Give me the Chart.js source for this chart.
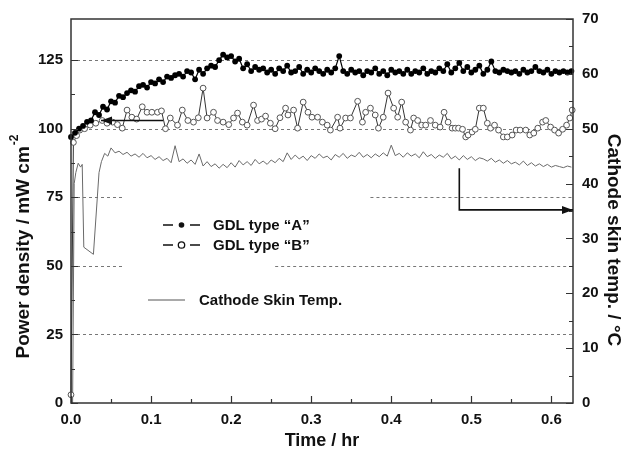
<!DOCTYPE html>
<html>
<head>
<meta charset="utf-8">
<script src="https://cdn.jsdelivr.net/npm/chart.js@4.4.1/dist/chart.umd.min.js"></script>
<style>
  html, body { margin: 0; padding: 0; background: #fff; }
</style>
</head>
<body>
<canvas id="chart" width="624" height="451"></canvas>
<script>
// GDL type "A" (filled circles), sampled every 0.005 hr from t = 0
const stepA = 0.005;
const powerA = [
  97, 98.5, 100, 101, 102.5, 103, 106, 105, 108, 107,
  110, 109.5, 112, 111.5, 113, 114, 113.5, 115.5, 116, 115,
  117, 116.5, 118, 117, 119, 118.5, 119.5, 120, 119, 121,
  120.5, 118, 121.5, 120, 122, 123, 122.5, 125, 127, 126,
  126.5, 124.5, 125.5, 122, 123.5, 121, 122.5, 121.5, 122, 120.5,
  121.5, 120, 122, 121, 123, 120.5, 121, 122.5, 120, 121.5,
  120.5, 122, 121, 120, 121.5, 120.5, 122, 126.5, 121, 120,
  121.5, 120.5, 121, 119.5, 121, 120.5, 122, 120, 121, 119.5,
  121.5, 120.5, 121, 120, 121.5, 120, 121, 120.5, 122, 120,
  121, 120.5, 122, 121, 123.5, 120.5, 122, 124, 121, 122.5,
  120.5, 121.5, 123, 120, 121.5, 124.5, 121, 120.5, 121.5, 121,
  120.5, 121, 120, 121.5, 120.5, 121, 122.5, 121, 120.5, 121.5,
  120, 121, 120.5, 121, 120.5, 121
];

// GDL type "B" (open circles)
const timeB = [
  0.000, 0.003, 0.007, 0.011, 0.017, 0.024, 0.031, 0.039, 0.045, 0.052,
  0.058, 0.064, 0.070, 0.076, 0.082, 0.089, 0.095, 0.101, 0.108, 0.113,
  0.118, 0.124, 0.133, 0.139, 0.146, 0.153, 0.159, 0.165, 0.170, 0.178,
  0.183, 0.190, 0.197, 0.203, 0.208, 0.214, 0.220, 0.228, 0.233, 0.238,
  0.243, 0.249, 0.255, 0.261, 0.268, 0.271, 0.278, 0.283, 0.290, 0.296,
  0.301, 0.308, 0.314, 0.320, 0.324, 0.333, 0.336, 0.343, 0.349, 0.358,
  0.364, 0.368, 0.374, 0.380, 0.384, 0.390, 0.396, 0.403, 0.408, 0.413,
  0.418, 0.424, 0.428, 0.433, 0.438, 0.443, 0.449, 0.455, 0.461, 0.466,
  0.471, 0.476, 0.480, 0.484, 0.489, 0.493, 0.496, 0.501, 0.505, 0.510,
  0.515, 0.520, 0.524, 0.529, 0.534, 0.540, 0.545, 0.551, 0.556, 0.561,
  0.568, 0.573, 0.578, 0.583, 0.589, 0.593, 0.599, 0.604, 0.609, 0.614,
  0.619, 0.623, 0.626
];
const powerB = [
  3, 95, 97.5, 99.5, 100, 101.3, 102, 103, 102, 102.4,
  101.5, 100.2, 106.8, 104.2, 103.5, 108, 106, 106, 106, 106.5,
  100, 103.9, 101.3, 106.8, 103, 102.4, 104, 114.8, 103.9, 106,
  103, 102.4, 101.5, 103.9, 105.7, 102.4, 101.3, 108.6, 103, 103.5,
  104.6, 102, 100, 104, 107.5, 105, 106.8, 100.2, 109.7, 106,
  104.2, 104.2, 102.4, 101.3, 99.5, 104.2, 100.2, 103.9, 103.9, 110,
  102.4, 106, 107.5, 105, 100.2, 104.2, 113, 107.5, 104.2, 109.7,
  102.4, 99.5, 103.9, 103, 101.3, 101.3, 103, 101.3, 100.6, 106,
  102.4, 100.2, 100.2, 100.2, 99.8, 97, 97.7, 98.8, 99.8, 107.5,
  107.5, 102, 100.2, 101.3, 99.5, 97, 97, 97.7, 99.5, 99.5,
  99.5, 97.7, 98.4, 100.2, 102.4, 103, 100.6, 99.5, 98.4, 99.8,
  101.3, 103.9, 106.8
];

// Cathode skin temperature (right axis, °C): start-up part, then every 0.005 hr from 0.05
const tempStartTimes = [0.002, 0.004, 0.006, 0.009, 0.012, 0.014, 0.016, 0.028, 0.035, 0.038, 0.042, 0.046];
const tempStart = [0, 40, 42, 43.7, 43, 43.5, 28.4, 27.1, 42, 44, 45.5, 45];
const tempFrom = 0.05;
const stepT = 0.005;
const temp = [
  46.5, 45.6, 45.9, 45.3, 45.7, 45.0, 45.4, 44.8, 45.5, 44.7,
  45.1, 44.4, 44.9, 44.2, 44.6, 43.8, 46.9, 44.0, 44.5, 43.7,
  44.3, 43.5, 45.4, 43.2, 44.0, 43.1, 43.6, 42.8, 43.5, 42.9,
  43.8, 43.0, 44.2, 43.4, 44.0, 43.3, 44.4, 43.6, 44.1, 43.5,
  44.3, 43.8, 44.6, 44.0, 45.6, 44.4, 45.2, 44.5, 45.0, 44.2,
  45.1, 44.6, 45.4, 44.7, 45.0, 44.3, 45.3, 44.8, 45.5, 44.6,
  45.2, 44.9, 45.7, 44.8, 45.3, 44.7, 45.4, 44.9, 45.6, 45.0,
  47.0, 45.1, 45.5, 44.8, 45.6, 45.0, 45.4, 44.7, 45.8, 44.9,
  45.3, 44.6, 45.2, 44.8, 45.5, 44.5, 45.0, 44.3, 45.1, 44.4,
  44.9, 44.2, 44.7, 44.5, 44.1, 44.6, 43.9, 44.3, 43.7, 44.2,
  43.6, 43.9, 43.4, 44.1, 43.3, 43.8, 43.2, 43.6, 43.1, 43.5,
  43.0, 43.3, 43.1, 42.9, 43.2, 43.0
];

// dashed reference lines on the left axis: [value, from time, to time]
const gridRuns = [
  [125, 0, 0.627], [100, 0, 0.627],
  [75, 0, 0.065], [75, 0.374, 0.627],
  [50, 0, 0.065], [50, 0.255, 0.627],
  [25, 0, 0.627]
];

const pointsA = powerA.map((v, i) => ({ x: +(i * stepA).toFixed(3), y: v }));
const pointsB = powerB.map((v, i) => ({ x: timeB[i], y: v }));
const pointsT = tempStart.map((v, i) => ({ x: tempStartTimes[i], y: v }))
  .concat(temp.map((v, i) => ({ x: +(tempFrom + i * stepT).toFixed(3), y: v })));

const FONT = '"Liberation Sans", Arial, sans-serif';

function arrow(ctx, pts) {
  ctx.beginPath();
  pts.forEach(([px, py], i) => (i ? ctx.lineTo(px, py) : ctx.moveTo(px, py)));
  ctx.stroke();
  const [x1, y1] = pts[pts.length - 2];
  const [x2, y2] = pts[pts.length - 1];
  const a = Math.atan2(y2 - y1, x2 - x1);
  const c = Math.cos(a), s = Math.sin(a);
  ctx.beginPath();
  ctx.moveTo(x2, y2);
  ctx.lineTo(x2 - 11 * c + 4 * s, y2 - 11 * s - 4 * c);
  ctx.lineTo(x2 - 11 * c - 4 * s, y2 - 11 * s + 4 * c);
  ctx.closePath();
  ctx.fill();
}

const decor = {
  id: 'decor',
  beforeDatasetsDraw(chart) {
    const { ctx, scales: { x, y } } = chart;
    ctx.save();
    ctx.strokeStyle = '#777';
    ctx.lineWidth = 1;
    ctx.setLineDash([3, 3]);
    gridRuns.forEach(([v, from, to]) => {
      const py = Math.round(y.getPixelForValue(v)) + 0.5;
      ctx.beginPath();
      ctx.moveTo(x.getPixelForValue(from), py);
      ctx.lineTo(x.getPixelForValue(to), py);
      ctx.stroke();
    });
    ctx.restore();
  },
  afterDatasetsDraw(chart) {
    const { ctx, chartArea: a, scales: { x, y, y2 } } = chart;
    ctx.save();
    ctx.strokeStyle = '#333';
    ctx.fillStyle = '#111';

    // frame
    ctx.lineWidth = 1.5;
    ctx.strokeRect(a.left, a.top, a.right - a.left, a.bottom - a.top);

    // inward ticks, major + minor
    ctx.lineWidth = 1.2;
    ctx.beginPath();
    x.ticks.forEach(t => {
      const px = Math.round(x.getPixelForValue(t.value)) + 0.5;
      ctx.moveTo(px, a.bottom); ctx.lineTo(px, a.bottom - 7);
      const m = Math.round(x.getPixelForValue(t.value + 0.05)) + 0.5;
      if (m < a.right - 2) { ctx.moveTo(m, a.bottom); ctx.lineTo(m, a.bottom - 4); }
    });
    y.ticks.forEach(t => {
      const py = Math.round(y.getPixelForValue(t.value)) + 0.5;
      ctx.moveTo(a.left, py); ctx.lineTo(a.left + 7, py);
      if (t.value + 12.5 < 125) {
        const m = Math.round(y.getPixelForValue(t.value + 12.5)) + 0.5;
        ctx.moveTo(a.left, m); ctx.lineTo(a.left + 4, m);
      }
    });
    y2.ticks.forEach(t => {
      const py = Math.round(y2.getPixelForValue(t.value)) + 0.5;
      ctx.moveTo(a.right, py); ctx.lineTo(a.right - 7, py);
      if (t.value + 5 < 70) {
        const m = Math.round(y2.getPixelForValue(t.value + 5)) + 0.5;
        ctx.moveTo(a.right, m); ctx.lineTo(a.right - 4, m);
      }
    });
    ctx.stroke();

    // arrows pointing at each series' axis
    ctx.strokeStyle = '#111';
    ctx.lineWidth = 1.6;
    arrow(ctx, [
      [x.getPixelForValue(0.115), y.getPixelForValue(103)],
      [x.getPixelForValue(0.0375), y.getPixelForValue(103)]
    ]);
    arrow(ctx, [
      [x.getPixelForValue(0.485), y2.getPixelForValue(42.8)],
      [x.getPixelForValue(0.485), y2.getPixelForValue(35.2)],
      [a.right, y2.getPixelForValue(35.2)]
    ]);

    // legend
    ctx.font = 'bold 15px ' + FONT;
    ctx.textBaseline = 'middle';
    ctx.textAlign = 'left';
    const lx = a.left;
    const rowA = 225, rowB = 245, rowC = 300;
    ctx.lineWidth = 1.3;
    ctx.beginPath();
    ctx.moveTo(lx + 92, rowA); ctx.lineTo(lx + 102, rowA);
    ctx.moveTo(lx + 119, rowA); ctx.lineTo(lx + 129, rowA);
    ctx.moveTo(lx + 92, rowB); ctx.lineTo(lx + 102, rowB);
    ctx.moveTo(lx + 119, rowB); ctx.lineTo(lx + 129, rowB);
    ctx.stroke();
    ctx.beginPath(); ctx.arc(lx + 110.5, rowA, 2.8, 0, Math.PI * 2); ctx.fill();
    ctx.beginPath(); ctx.arc(lx + 110.5, rowB, 3.2, 0, Math.PI * 2); ctx.stroke();
    ctx.fillText('GDL type \u201CA\u201D', lx + 142, rowA + 1);
    ctx.fillText('GDL type \u201CB\u201D', lx + 142, rowB + 1);
    ctx.strokeStyle = '#555';
    ctx.lineWidth = 1;
    ctx.beginPath(); ctx.moveTo(lx + 77, rowC); ctx.lineTo(lx + 114, rowC); ctx.stroke();
    ctx.fillText('Cathode Skin Temp.', lx + 128, rowC + 1);

    // axis titles
    ctx.font = 'bold 18px ' + FONT;
    ctx.textAlign = 'center';
    ctx.textBaseline = 'middle';
    ctx.fillText('Time / hr', (a.left + a.right) / 2, 441);

    const main = 'Power density / mW cm';
    ctx.font = 'bold 19px ' + FONT;
    const wMain = ctx.measureText(main).width;
    ctx.font = 'bold 12px ' + FONT;
    const wSup = ctx.measureText('-2').width;
    ctx.save();
    ctx.translate(24, 247);
    ctx.rotate(-Math.PI / 2);
    ctx.textAlign = 'left';
    const start = -(wMain + wSup) / 2;
    ctx.font = 'bold 19px ' + FONT;
    ctx.fillText(main, start, 0);
    ctx.font = 'bold 12px ' + FONT;
    ctx.fillText('-2', start + wMain + 1, -9);
    ctx.restore();

    ctx.save();
    ctx.translate(613, 240);
    ctx.rotate(Math.PI / 2);
    ctx.font = 'bold 19px ' + FONT;
    ctx.fillText('Cathode skin temp. / \u00B0C', 0, 0);
    ctx.restore();

    ctx.restore();
  }
};

const tickFont = { family: FONT, size: 15, weight: 'bold' };

new Chart(document.getElementById('chart'), {
  type: 'line',
  data: {
    datasets: [
      {
        label: 'GDL type "A"', data: pointsA, yAxisID: 'y', order: 1, clip: 6,
        borderColor: '#000', borderWidth: 1.2,
        pointRadius: 2.9, pointBackgroundColor: '#000', pointBorderColor: '#000', pointBorderWidth: 0
      },
      {
        label: 'GDL type "B"', data: pointsB, yAxisID: 'y', order: 2, clip: 6,
        borderColor: '#333', borderWidth: 1,
        pointRadius: 2.9, pointBackgroundColor: '#fff', pointBorderColor: '#555', pointBorderWidth: 1
      },
      {
        label: 'Cathode Skin Temp.', data: pointsT, yAxisID: 'y2', order: 3,
        borderColor: '#6a6a6a', borderWidth: 1, pointRadius: 0
      }
    ]
  },
  options: {
    responsive: false,
    animation: false,
    events: [],
    layout: { padding: { top: 19, left: 0, right: 0, bottom: 0 } },
    plugins: { legend: { display: false }, tooltip: { enabled: false } },
    scales: {
      x: {
        type: 'linear', min: 0, max: 0.627,
        grid: { display: false, drawTicks: false },
        border: { display: false },
        ticks: {
          stepSize: 0.1, includeBounds: false, autoSkip: false, maxRotation: 0,
          padding: 8, color: '#111', font: tickFont,
          callback: v => v.toFixed(1)
        },
        afterFit: s => { s.height = 48; }
      },
      y: {
        position: 'left', min: 0, max: 140,
        grid: { display: false, drawTicks: false },
        border: { display: false },
        ticks: { stepSize: 25, includeBounds: false, padding: 8, color: '#111', font: tickFont },
        afterFit: s => { s.width = 71; }
      },
      y2: {
        position: 'right', min: 0, max: 70,
        grid: { display: false, drawTicks: false },
        border: { display: false },
        ticks: { stepSize: 10, includeBounds: false, padding: 9, color: '#111', font: tickFont },
        afterFit: s => { s.width = 51; }
      }
    }
  },
  plugins: [decor]
});
</script>
</body>
</html>
